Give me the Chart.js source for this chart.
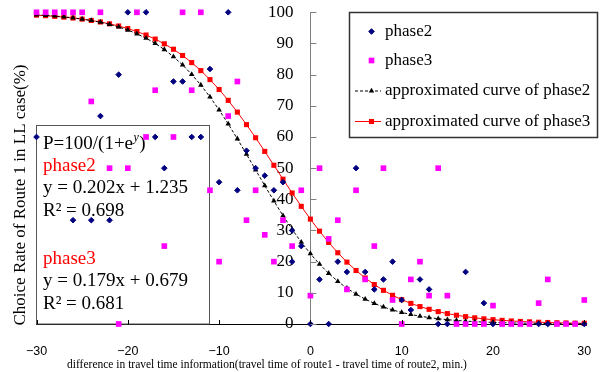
<!DOCTYPE html>
<html><head><meta charset="utf-8">
<script src="https://cdn.jsdelivr.net/npm/chart.js@4/dist/chart.umd.min.js"></script>
<style>html,body{margin:0;padding:0;background:#fff}#wrap{width:600px;height:372px;position:relative}</style>
</head><body><div id="wrap"><canvas id="c" width="600" height="372"></canvas></div>
<script>
// difference in travel time information (min.)
const minutes = [-30,-29,-28,-27,-26,-25,-24,-23,-22,-21,-20,-19,-18,-17,-16,-15,-14,-13,-12,-11,-10,-9,-8,-7,-6,-5,-4,-3,-2,-1,0,1,2,3,4,5,6,7,8,9,10,11,12,13,14,15,16,17,18,19,20,21,22,23,24,25,26,27,28,29,30];
// phase3 observed choice rate (%)
const phase3Rate = [100,100,100,100,100,100,71.4,100,50,0,50,100,60,75,25,60,100,75,100,42.9,20,66.7,77.8,33.3,42.9,28.6,20,33.3,25,42.9,9.1,50,27.3,33.3,11.1,42.9,14.3,25,50,7.7,0,14.3,20,9.1,50,9.1,0,0,0,0,5.9,0,0,0,0,6.7,14.3,0,0,0,7.7];
// phase2 observed
const phase2Minutes = [-30,-26,-24,-23,-22,-21,-20,-18,-17,-16,-15,-14,-13,-12,-11,-10,-9,-8,-7,-6,-5,-4,-3,-2,-2,-1,0,1,2,3,4,5,6,7,8,9,10,11,12,13,14,15,17,19,20,25,26,30];
const phase2Rate = [60,33.3,33.3,66.7,33.3,80,100,100,60,50,77.8,77.8,60,60,81.8,45.5,100,42.9,55.6,50,47.6,42.9,45.5,30,20,25,0,14.3,0,20,16.7,50,16.7,11.1,14.3,20,7.7,4.5,14.3,11.1,0,0,16.7,6.7,0,0,0,0];
// approximated curves (%)
const curve2Rate = [99.20,99.03,98.81,98.55,98.23,97.84,97.37,96.81,96.12,95.29,94.30,93.11,91.69,90.02,88.05,85.76,83.11,80.08,76.66,72.85,68.68,64.17,59.41,54.46,49.42,44.40,39.48,34.77,30.34,26.25,22.53,19.20,16.26,13.69,11.48,9.58,7.97,6.60,5.46,4.51,3.71,3.06,2.51,2.06,1.69,1.39,1.14,0.93,0.76,0.62,0.51,0.42,0.34,0.28,0.23,0.19,0.15,0.12,0.10,0.08,0.07];
const curve3Rate = [99.09,98.91,98.70,98.45,98.16,97.80,97.38,96.89,96.30,95.61,94.79,93.83,92.71,91.41,89.89,88.15,86.14,83.86,81.29,78.41,75.23,71.75,67.98,63.97,59.75,55.38,50.92,46.46,42.04,37.75,33.65,29.78,26.17,22.86,19.86,17.16,14.77,12.65,10.80,9.20,7.81,6.61,5.59,4.71,3.97,3.34,2.81,2.36,1.98,1.66,1.39,1.17,0.98,0.82,0.69,0.57,0.48,0.40,0.34,0.28,0.24];
const xTicks = [-30,-20,-10,0,10,20,30];
const yTicks = [0,10,20,30,40,50,60,70,80,90,100];
const seriesNames = ['phase2','phase3','approximated curve of phase2','approximated curve of phase3'];
const xTitle = 'difference in travel time information(travel time of route1 - travel time of route2, min.)';
const yTitle = 'Choice Rate of Route 1 in LL case(%)';
const formulaHead = 'P=100/(1+e';
const formulaSup = 'y';
const formulaTail = ')';
const phase2Fit = ['phase2','y = 0.202x + 1.235','R\u00B2 = 0.698'];
const phase3Fit = ['phase3','y = 0.179x + 0.679','R\u00B2 = 0.681'];

const pts = (xs, ys) => xs.map((x, i) => ({x: x, y: ys[i]}));
const SERIF = '"Liberation Serif","Times New Roman",serif';

const datasets = [
  {label: seriesNames[0], data: pts(phase2Minutes, phase2Rate), showLine: false, pointStyle: 'rectRot', pointRadius: 2.8, backgroundColor: '#000080', borderColor: '#000080', borderWidth: 1, clip: false},
  {label: seriesNames[1], data: pts(minutes, phase3Rate), showLine: false, pointStyle: 'rect', pointRadius: 4, backgroundColor: '#FF00FF', borderColor: '#FF00FF', borderWidth: 0, clip: false},
  {label: seriesNames[2], data: pts(minutes, curve2Rate), showLine: true, borderColor: '#000000', borderWidth: 1, borderDash: [3,2], pointStyle: 'triangle', pointRadius: 3.2, pointBackgroundColor: '#000', pointBorderColor: '#000', pointBorderWidth: 0, backgroundColor: '#000', clip: false},
  {label: seriesNames[3], data: pts(minutes, curve3Rate), showLine: true, borderColor: '#FF0000', borderWidth: 1, pointStyle: 'rect', pointRadius: 3.6, pointBackgroundColor: '#FF0000', pointBorderColor: '#FF0000', pointBorderWidth: 0, backgroundColor: '#FF0000', clip: false}
];

function drawMarker(ctx, ds, x, y) {
  ctx.save();
  ctx.fillStyle = ds.pointBackgroundColor || ds.backgroundColor;
  ctx.strokeStyle = ds.pointBorderColor || ds.borderColor;
  const bw = ds.pointBorderWidth !== undefined ? ds.pointBorderWidth : ds.borderWidth;
  ctx.lineWidth = bw || 0;
  ctx.setLineDash([]);
  if (Chart.helpers && Chart.helpers.drawPoint) {
    Chart.helpers.drawPoint(ctx, {pointStyle: ds.pointStyle, radius: ds.pointRadius, rotation: 0, borderWidth: bw || 0}, x, y);
  }
  ctx.restore();
}

const zeroPad = s => { s.paddingTop = 0; s.paddingBottom = 0; s.paddingLeft = 0; s.paddingRight = 0; };

const decor = {
  id: 'decor',
  beforeDatasetsDraw(chart) {
    const ctx = chart.ctx;
    const xs = chart.scales.x, ys = chart.scales.y;
    // fit text box
    const l = xs.getPixelForValue(-30), r = 209.5, t = 125.5, b = ys.getPixelForValue(0);
    ctx.save();
    ctx.fillStyle = '#fff';
    ctx.fillRect(l, t, r - l, b - t);
    ctx.strokeStyle = '#555';
    ctx.lineWidth = 1;
    ctx.strokeRect(l, t, r - l, b - t);
    ctx.textBaseline = 'middle';
    ctx.textAlign = 'left';
    ctx.font = '19px ' + SERIF;
    ctx.fillStyle = '#000';
    let x0 = 43;
    ctx.fillText(formulaHead, x0, 144);
    let w = ctx.measureText(formulaHead).width;
    ctx.font = 'italic 12px ' + SERIF;
    ctx.fillText(formulaSup, x0 + w + 0.5, 138);
    const w2 = ctx.measureText(formulaSup).width;
    ctx.font = '19px ' + SERIF;
    ctx.fillText(formulaTail, x0 + w + w2 + 1, 144);
    const rows = [[phase2Fit, 166], [phase3Fit, 259]];
    rows.forEach(([lines, y]) => {
      lines.forEach((s, i) => {
        ctx.fillStyle = i === 0 ? '#FF0000' : '#000';
        ctx.fillText(s, x0, y + i * 22.5);
      });
    });
    ctx.restore();
  },
  afterDraw(chart) {
    const ctx = chart.ctx;
    const xs = chart.scales.x, ys = chart.scales.y;
    const ax = xs.getPixelForValue(0), ay = ys.getPixelForValue(0);
    ctx.save();
    // y tick marks (to the right of the axis)
    ctx.strokeStyle = '#808080'; ctx.lineWidth = 1;
    yTicks.forEach(v => {
      const y = Math.round(ys.getPixelForValue(v)) + 0.5;
      ctx.beginPath(); ctx.moveTo(ax, y); ctx.lineTo(ax + 6, y); ctx.stroke();
    });
    // x tick marks (upward)
    ctx.strokeStyle = '#000';
    xTicks.forEach(v => {
      const x = Math.round(xs.getPixelForValue(v)) + 0.5;
      ctx.beginPath(); ctx.moveTo(x, ay); ctx.lineTo(x, ay - 4); ctx.stroke();
    });
    // x title
    ctx.fillStyle = '#000';
    ctx.font = '11.5px ' + SERIF;
    ctx.textAlign = 'center'; ctx.textBaseline = 'middle';
    ctx.fillText(xTitle, 267, 365);
    // y title
    ctx.save();
    ctx.translate(21, 195);
    ctx.rotate(-Math.PI / 2);
    ctx.font = '17px ' + SERIF;
    ctx.fillText(yTitle, 0, 0);
    ctx.restore();
    // legend
    const L = 349.5, T = 12.5, R = 597.5, B = 137.5;
    ctx.fillStyle = '#fff';
    ctx.fillRect(L, T, R - L, B - T);
    ctx.strokeStyle = '#333'; ctx.lineWidth = 1.5;
    ctx.strokeRect(L, T, R - L, B - T);
    const rowsY = [31.5, 60.5, 91, 121.5];
    datasets.forEach((ds, i) => {
      const y = rowsY[i];
      if (ds.showLine) {
        ctx.save();
        ctx.strokeStyle = ds.borderColor; ctx.lineWidth = ds.borderWidth;
        ctx.setLineDash(ds.borderDash || []);
        ctx.beginPath(); ctx.moveTo(355, y); ctx.lineTo(381, y); ctx.stroke();
        ctx.restore();
      }
      drawMarker(ctx, ds, 371.5, y);
      ctx.fillStyle = '#000';
      ctx.font = '17px ' + SERIF;
      ctx.textAlign = 'left'; ctx.textBaseline = 'middle';
      ctx.fillText(ds.label, 385, y);
    });
    ctx.restore();
  }
};

new Chart(document.getElementById('c'), {
  type: 'scatter',
  data: {datasets: datasets},
  options: {
    responsive: false,
    animation: false,
    devicePixelRatio: 1,
    layout: {padding: {left: 36.5, right: 15.7, top: 12.3, bottom: 0}},
    plugins: {legend: {display: false}, tooltip: {enabled: false}},
    scales: {
      x: {
        type: 'linear', position: 'bottom', min: -30, max: 30,
        afterBuildTicks: s => { s.ticks = xTicks.map(v => ({value: v})); },
        afterFit: s => { s.height = 48; zeroPad(s); },
        border: {display: true, color: '#000', width: 1},
        grid: {drawOnChartArea: false, drawTicks: false},
        ticks: {padding: 20, color: '#000', maxRotation: 0, autoSkip: false,
          font: {family: '"Liberation Sans", Arial, sans-serif', size: 12.5},
          callback: v => (v < 0 ? '\u2212' + Math.abs(v) : String(v))},
        title: {display: false}
      },
      y: {
        type: 'linear', position: {x: 0}, min: 0, max: 100,
        afterBuildTicks: s => { s.ticks = yTicks.map(v => ({value: v})); },
        afterFit: s => { zeroPad(s); },
        border: {display: true, color: '#808080', width: 1},
        grid: {drawOnChartArea: false, drawTicks: false},
        ticks: {padding: 12, color: '#000', font: {family: SERIF, size: 17},
          callback: v => String(v) + '\u2002\u2002'},
        title: {display: false}
      }
    }
  },
  plugins: [decor]
});
</script>
</body></html>
